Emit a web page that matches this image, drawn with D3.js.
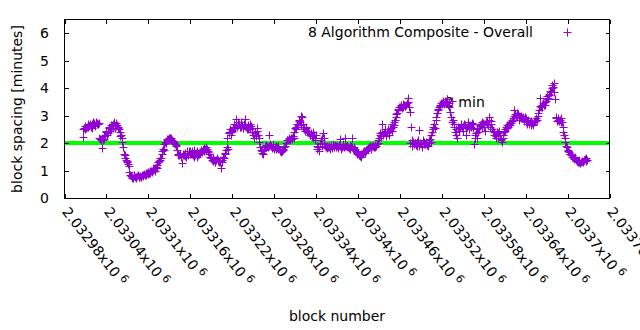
<!DOCTYPE html>
<html>
<head>
<meta charset="utf-8">
<script src="https://cdn.jsdelivr.net/npm/d3@7"></script>
<style>
  html, body { margin: 0; padding: 0; background: #fff; }
  svg { display: block; }
  text { font-family: "DejaVu Sans", sans-serif; font-size: 14px; fill: #000; }
</style>
</head>
<body>
<svg id="chart" width="640" height="330"></svg>
<script>
// ---- data ----
const seriesName = "8 Algorithm Composite - Overall";
const referenceLabel = "2 min";
const referenceValue = 2;
const firstBlock = 2033006;   // first plotted block
// block spacing (minutes) for even-offset blocks: firstBlock, firstBlock+2, ...
const spacingEven = [
  2.21, 2.55, 2.50, 2.60, 2.58, 2.65, 2.60,
  2.68, 2.72, 2.66, 2.74, 2.70, 2.20, 2.12,
  1.83, 2.15, 2.30, 2.45, 2.35, 2.55, 2.50,
  2.62, 2.70, 2.55, 2.72, 2.60, 2.50, 2.25,
  2.20, 1.87, 1.56, 1.38, 1.30, 1.15, 0.85,
  0.78, 0.74, 0.82, 0.76, 0.80, 0.75, 0.79,
  0.78, 0.82, 0.88, 0.85, 0.92, 0.95, 0.90,
  1.00, 1.02, 1.05, 1.08, 1.10, 1.30, 1.40,
  1.45, 1.70, 1.75, 2.05, 2.10, 2.15, 2.20,
  2.18, 2.12, 2.05, 1.95, 1.93, 1.60, 1.55,
  1.60, 1.27, 1.55, 1.65, 1.50, 1.60, 1.70,
  1.70, 1.60, 1.55, 1.75, 1.65, 1.50, 1.60,
  1.65, 1.75, 1.80, 1.70, 1.85, 1.80, 1.72,
  1.50, 1.45, 1.35, 1.40, 1.30, 1.45, 1.40,
  1.35, 1.10, 1.30, 1.45, 1.65, 1.85, 1.80,
  2.40, 2.30, 2.45, 2.60, 2.55, 2.87, 2.65,
  2.70, 2.60, 2.65, 2.55, 2.87, 2.60, 2.50,
  2.60, 2.70, 2.55, 2.30, 2.40, 2.25, 2.55,
  2.20, 1.85, 1.70, 1.60, 1.75, 1.85, 1.90,
  2.30, 1.95, 1.90, 1.85, 1.80, 1.90, 1.85,
  1.85, 1.75, 1.67, 1.80, 1.85, 1.90, 2.10,
  2.10, 2.15, 2.20, 2.15, 2.20, 2.55, 2.60,
  2.65, 2.80, 3.00, 2.95, 2.70, 2.45, 2.55,
  2.40, 2.35, 2.30, 2.25, 2.40, 2.20, 2.30,
  1.80, 1.70, 2.00, 1.90, 2.35, 2.20, 1.85,
  1.90, 1.85, 1.80, 1.90, 1.95, 1.85, 1.88,
  1.90, 1.85, 2.15, 1.80, 1.90, 1.85, 2.18,
  1.88, 1.85, 1.80, 1.90, 2.18, 1.85, 1.78,
  1.70, 1.65, 1.55, 1.50, 1.60, 1.72, 1.65,
  1.75, 1.82, 1.85, 1.80, 1.88, 1.90, 1.85,
  1.90, 2.00, 2.20, 2.36, 2.70, 2.30, 2.45,
  2.25, 2.40, 2.30, 2.50, 2.45, 2.60, 2.65,
  2.95, 3.10, 3.25, 3.30, 3.35, 3.30, 3.40,
  3.35, 3.45, 3.64, 3.13, 2.60, 2.10, 1.95,
  2.00, 1.90, 2.10, 2.47, 1.95, 1.85, 2.05,
  1.95, 2.00, 1.90, 2.10, 2.05, 2.40, 2.60,
  2.55, 2.95, 3.20, 3.30, 3.40, 3.45, 3.50,
  3.55, 3.50, 3.60, 3.45, 3.13, 3.55, 2.85,
  2.70, 2.30, 2.20, 2.50, 2.55, 2.65, 2.45,
  2.70, 2.30, 2.60, 2.75, 2.65, 2.60, 2.70,
  1.95, 2.30, 2.20, 2.40, 2.65, 2.70, 2.60,
  2.70, 2.45, 2.80, 2.65, 2.95, 2.80, 2.50,
  2.40, 2.30, 2.20, 2.35, 2.45, 2.10, 2.04,
  2.30, 2.50, 2.60, 2.55, 2.70, 2.65, 2.80,
  2.90, 3.20, 3.00, 3.10, 2.85, 2.95, 3.00,
  2.95, 2.80, 2.90, 2.70, 2.85, 2.75, 2.65,
  2.70, 2.75, 2.80, 2.85, 3.10, 3.64, 3.30,
  3.30, 3.40, 3.50, 3.60, 3.65, 3.75, 3.85,
  4.10, 4.18, 3.60, 2.95, 2.85, 2.80, 2.90,
  2.75, 2.40, 2.20, 1.90, 1.75, 1.67, 1.60,
  1.55, 1.50, 1.45, 1.40, 1.35, 1.30, 1.27,
  1.35, 1.30, 1.40, 1.45, 1.38
];
// block spacing (minutes) for odd-offset blocks: firstBlock+1, firstBlock+3, ...
const spacingOdd = [
  2.50, 2.62, 2.55, 2.68, 2.63, 2.70, 2.55,
  2.75, 2.64, 2.78, 2.68, 2.72, 2.15, 2.18,
  2.10, 2.25, 2.40, 2.30, 2.60, 2.45, 2.65,
  2.55, 2.75, 2.62, 2.66, 2.55, 2.40, 2.30,
  2.05, 1.60, 1.45, 1.35, 1.25, 0.95, 0.80,
  0.72, 0.80, 0.77, 0.73, 0.83, 0.78, 0.76,
  0.85, 0.80, 0.84, 0.90, 0.88, 0.92, 0.97,
  0.96, 1.08, 1.00, 1.12, 1.20, 1.35, 1.45,
  1.60, 1.78, 1.95, 2.00, 2.15, 2.12, 2.20,
  2.10, 2.08, 2.00, 1.90, 1.75, 1.58, 1.62,
  1.50, 1.62, 1.58, 1.52, 1.70, 1.55, 1.62,
  1.62, 1.72, 1.50, 1.58, 1.70, 1.55, 1.65,
  1.72, 1.68, 1.82, 1.78, 1.75, 1.68, 1.60,
  1.45, 1.38, 1.50, 1.32, 1.40, 1.35, 1.30,
  1.30, 1.40, 1.50, 1.60, 1.75, 2.20, 2.35,
  2.50, 2.40, 2.55, 2.70, 2.65, 2.60, 2.75,
  2.60, 2.75, 2.55, 2.70, 2.62, 2.50, 2.65,
  2.50, 2.62, 2.40, 2.20, 2.35, 2.45, 2.30,
  2.05, 1.75, 1.65, 1.78, 1.88, 1.92, 1.85,
  1.90, 1.88, 1.82, 1.95, 1.85, 1.80, 1.88,
  1.78, 1.70, 1.72, 1.75, 1.90, 2.00, 2.12,
  2.18, 2.12, 2.18, 2.25, 2.40, 2.50, 2.70,
  2.85, 2.75, 2.65, 2.60, 2.50, 2.60, 2.40,
  2.45, 2.30, 2.35, 2.20, 2.30, 2.10, 1.90,
  1.85, 1.95, 2.10, 2.20, 2.00, 1.90, 1.82,
  1.85, 1.90, 1.92, 1.82, 1.88, 1.92, 1.85,
  1.82, 1.92, 1.88, 1.85, 1.95, 1.88, 1.90,
  1.90, 1.82, 1.88, 1.85, 1.80, 1.75, 1.70,
  1.62, 1.58, 1.52, 1.60, 1.68, 1.70, 1.72,
  1.80, 1.78, 1.88, 1.85, 1.90, 1.85, 1.92,
  1.95, 2.10, 2.30, 2.25, 2.40, 2.35, 2.50,
  2.35, 2.50, 2.40, 2.55, 2.70, 2.75, 2.85,
  3.05, 3.20, 3.30, 3.38, 3.28, 3.42, 3.35,
  3.40, 3.50, 3.30, 2.00, 1.90, 2.05, 2.00,
  1.92, 2.05, 1.90, 2.00, 1.90, 2.10, 1.95,
  2.05, 1.92, 2.00, 2.15, 2.30, 2.50, 2.70,
  2.85, 3.10, 3.25, 3.35, 3.45, 3.55, 3.42,
  3.48, 3.60, 3.40, 3.30, 2.95, 2.75, 2.60,
  2.40, 2.50, 2.60, 2.45, 2.70, 2.55, 2.62,
  2.65, 2.55, 2.70, 2.50, 2.62, 2.72, 2.55,
  2.20, 2.35, 2.50, 2.55, 2.62, 2.75, 2.72,
  2.60, 2.75, 2.70, 2.85, 2.60, 2.70, 2.45,
  2.30, 2.25, 2.40, 2.20, 2.30, 2.15, 2.20,
  2.40, 2.45, 2.65, 2.60, 2.75, 2.72, 2.85,
  3.00, 3.05, 2.95, 3.05, 3.00, 2.90, 2.92,
  2.88, 2.95, 2.78, 2.80, 2.70, 2.82, 2.72,
  2.65, 2.80, 2.90, 3.00, 3.20, 3.35, 3.40,
  3.45, 3.38, 3.55, 3.70, 3.80, 3.90, 4.00,
  4.05, 3.85, 2.90, 2.80, 2.92, 2.85, 2.75,
  2.60, 2.30, 2.05, 1.85, 1.70, 1.62, 1.55,
  1.50, 1.42, 1.48, 1.35, 1.32, 1.38, 1.30,
  1.33, 1.38, 1.42, 1.35
];
const xTicks = [2032980, 2033040, 2033100, 2033160, 2033220, 2033280, 2033340,
                2033400, 2033460, 2033520, 2033580, 2033640, 2033700, 2033760];
const yTicks = [0, 1, 2, 3, 4, 5, 6];
const xTitle = "block number";
const yTitle = "block spacing [minutes]";

// ---- layout ----
const svg = d3.select("#chart");
const mLeft = 64.5, mRight = 609.5, mTop = 19.5, mBottom = 198;
const purple = "#9400d3";

const x = d3.scaleLinear().domain([2032980, 2033760]).range([mLeft, mRight]);
const y = d3.scaleLinear().domain([0, 6.5]).range([mBottom, mTop]);

const points = [];
spacingEven.forEach((v, i) => points.push({ block: firstBlock + 2 * i, v }));
spacingOdd.forEach((v, i) => points.push({ block: firstBlock + 1 + 2 * i, v }));
points.sort((a, b) => a.block - b.block);

// reference line (2 min)
svg.append("line")
  .attr("x1", x.range()[0]).attr("x2", x.range()[1])
  .attr("y1", y(referenceValue)).attr("y2", y(referenceValue))
  .attr("stroke", "#00ff00").attr("stroke-width", 4);

// axes with inward ticks
const tickLen = 4;
const gx = svg.append("g").attr("transform", `translate(0,${mBottom})`)
  .call(d3.axisBottom(x).tickValues(xTicks).tickSize(-tickLen).tickFormat(""));
const gxTop = svg.append("g").attr("transform", `translate(0,${mTop})`)
  .call(d3.axisTop(x).tickValues(xTicks).tickSize(-tickLen).tickFormat(""));
const gy = svg.append("g").attr("transform", `translate(${mLeft},0)`)
  .call(d3.axisLeft(y).tickValues(yTicks).tickSize(-tickLen).tickFormat(""));
const gyR = svg.append("g").attr("transform", `translate(${mRight},0)`)
  .call(d3.axisRight(y).tickValues(yTicks).tickSize(-tickLen).tickFormat(""));
[gx, gxTop, gy, gyR].forEach(g => {
  g.select(".domain").remove();
  g.selectAll("line").attr("stroke", "#000").attr("shape-rendering", "crispEdges");
});

// border
svg.append("rect")
  .attr("x", mLeft).attr("y", mTop)
  .attr("width", mRight - mLeft).attr("height", mBottom - mTop)
  .attr("fill", "none").attr("stroke", "#000").attr("shape-rendering", "crispEdges");

// y tick labels
svg.append("g").selectAll("text").data(yTicks).join("text")
  .attr("x", 49).attr("y", d => y(d)).attr("dy", "0.36em")
  .attr("text-anchor", "end").text(d => d);

// x tick labels (rotated, with x10^6 superscript)
const xl = svg.append("g").selectAll("text").data(xTicks).join("text")
  .attr("transform", d => `translate(${x(d) - 3},${mBottom + 14}) rotate(52)`);
xl.append("tspan").text(d => String(+(d / 1e6).toFixed(5)) + "x10");
xl.append("tspan").attr("dx", 4).attr("dy", -5).style("font-size", "11px").text("6");

// axis titles
svg.append("text").attr("x", (mLeft + mRight) / 2).attr("y", 321)
  .attr("text-anchor", "middle").text(xTitle);
svg.append("text").attr("transform", `translate(22,109) rotate(-90)`)
  .attr("text-anchor", "middle").text(yTitle);

// reference label
svg.append("text").attr("x", 445).attr("y", 107).text(referenceLabel);

// plus markers
const plus = (cx, cy) => `M${cx - 4},${cy}H${cx + 4}M${cx},${cy - 4}V${cy + 4}`;
svg.append("g").selectAll("path").data(points).join("path")
  .attr("d", d => plus(Math.round(x(d.block)) + 0.5, Math.round(y(d.v)) + 0.5))
  .attr("stroke", purple).attr("stroke-width", 1).attr("fill", "none");

// legend
svg.append("text").attr("x", 533).attr("y", 37).attr("text-anchor", "end").text(seriesName);
svg.append("path").attr("d", plus(567.5, 32.5))
  .attr("stroke", purple).attr("stroke-width", 1).attr("fill", "none");
</script>
</body>
</html>
